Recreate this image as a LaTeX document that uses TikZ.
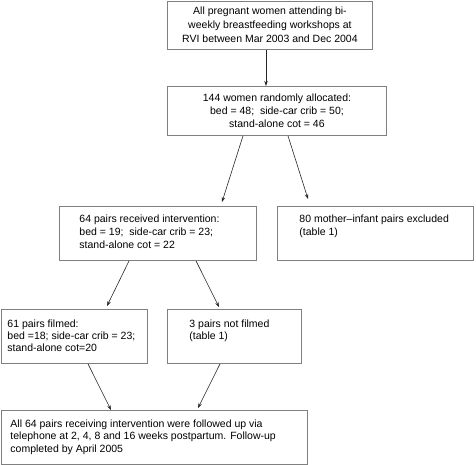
\documentclass[tikz,border=0pt]{standalone}
\usepackage{fontspec}
\setmainfont{Liberation Sans}
\usetikzlibrary{arrows.meta,calc}
\newcommand\flowbox[4]{\parbox[t][#2][t]{#1}{\vspace*{#3}#4}}
\tikzset{
  box/.style={draw=black!50, line width=0.9pt, inner sep=0pt, anchor=north west,
    font=\fontsize{10.5}{13.4}\selectfont},
  arr/.style={draw=black!85, line width=0.6pt, -{Stealth[length=5pt,width=3.5pt]}},
}
\begin{document}
\begin{tikzpicture}[x=1pt,y=1pt]
\useasboundingbox (0,0) rectangle (476,-465);
\node[box] (b1) at (167,-1) {\flowbox{205pt}{48pt}{5pt}{\centering
All pregnant women attending bi-\\[0.6pt] weekly breastfeeding workshops at\\[0.6pt] RVI between Mar 2003 and Dec 2004\par}};
\node[box] (b2) at (167,-86) {\flowbox{219pt}{49pt}{7pt}{\centering
144 women randomly allocated:\\ bed = 48; \ side-car crib = 50;\\ stand-alone cot = 46\par}};
\node[box] (b3) at (59,-206) {\flowbox{197pt}{54pt}{8pt}{\leftskip=20pt
64 pairs received intervention:\\ bed = 19; \ side-car crib = 23;\\ stand-alone cot = 22\par}};
\node[box] (b4) at (277,-206) {\flowbox{196pt}{54pt}{8pt}{\leftskip=22pt
80 mother--infant pairs excluded\\ (table 1)\par}};
\node[box] (b5) at (1,-309) {\flowbox{146pt}{54pt}{10pt}{\leftskip=6pt\baselineskip=12.3pt
61 pairs filmed:\\ bed =18; side-car crib = 23;\\ stand-alone cot=20\par}};
\node[box] (b6) at (167,-309) {\flowbox{134pt}{54pt}{10pt}{\leftskip=22pt\baselineskip=12.3pt
3 pairs not filmed\\ (table 1)\par}};
\node[box] (b7) at (1,-410) {\flowbox{306pt}{54pt}{9pt}{\leftskip=9pt\baselineskip=12.6pt
All 64 pairs receiving intervention were followed up via\\ telephone at 2, 4, 8 and 16 weeks postpartum. Follow-up\\ completed by April 2005\par}};
\draw[arr] ([xshift=99pt]b1.south west) -- ([xshift=99pt]b2.north west);
\draw[arr] ([xshift=76pt]b2.south west) -- ([xshift=163pt,yshift=4pt]b3.north west);
\draw[arr] ([xshift=121pt]b2.south west) -- ([xshift=31pt,yshift=7pt]b4.north west);
\draw[arr] ([xshift=70pt]b3.south west) -- ([xshift=106pt,yshift=3pt]b5.north west);
\draw[arr] ([xshift=137pt]b3.south west) -- ([xshift=52pt,yshift=2pt]b6.north west);
\draw[arr] ([xshift=87pt]b5.south west) -- ([xshift=110pt]b7.north west);
\draw[arr] ([xshift=53pt]b6.south west) -- ([xshift=197pt,yshift=2pt]b7.north west);
\end{tikzpicture}
\end{document}
